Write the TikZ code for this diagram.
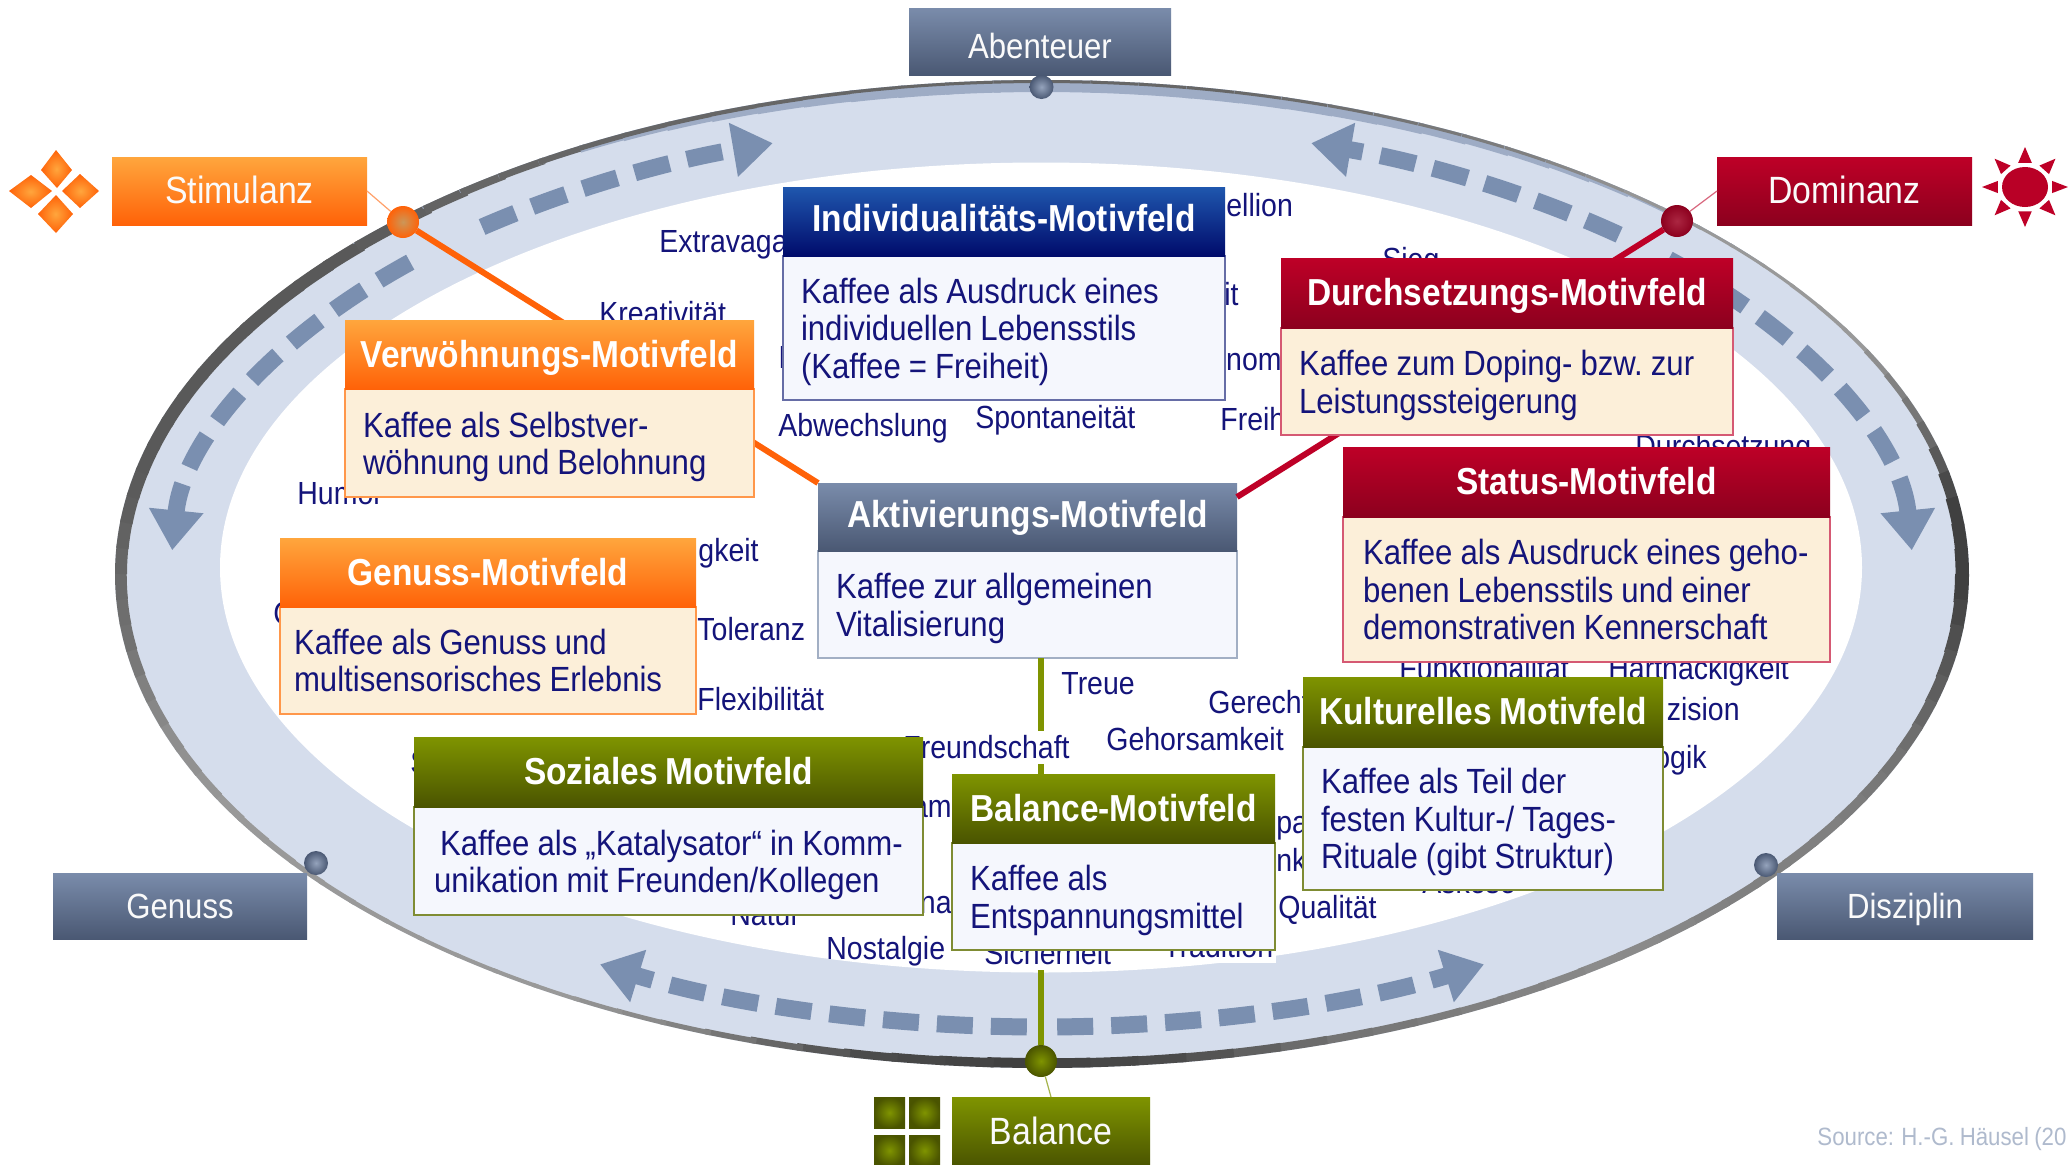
\documentclass[tikz,border=0pt]{standalone}
\usepackage{fontspec}
\setmainfont[FakeStretch=0.89,WordSpace=0.85]{Liberation Sans}
\usetikzlibrary{arrows.meta}
\definecolor{navy}{HTML}{14147A}
\definecolor{bandc}{HTML}{D5DDEC}
\definecolor{dashc}{HTML}{7A8FB0}
\definecolor{orT}{HTML}{FFA63D}\definecolor{orB}{HTML}{FF6208}
\definecolor{reT}{HTML}{BE0027}\definecolor{reB}{HTML}{8C001E}
\definecolor{grT}{HTML}{7F9400}\definecolor{grB}{HTML}{4A5400}
\definecolor{blT}{HTML}{1F57AE}\definecolor{blB}{HTML}{000B6B}
\definecolor{gyT}{HTML}{7A8CAB}\definecolor{gyB}{HTML}{4A5873}
\definecolor{warm}{HTML}{FCEFD9}
\definecolor{cool}{HTML}{F5F7FD}
\tikzset{
  x=0.5pt,y=-0.5pt,
  headfont/.style={font=\fontsize{18.8}{20}\selectfont\bfseries,text=white},
  orhead/.style={top color=orT,bottom color=orB},
  rehead/.style={top color=reT,bottom color=reB},
  grhead/.style={top color=grT,bottom color=grB},
  blhead/.style={top color=blT,bottom color=blB},
  gyhead/.style={top color=gyT,bottom color=gyB},
  orbody/.style={fill=warm,draw=orB!60!orT!80},
  rebody/.style={fill=warm,draw=reT!65},
  grbody/.style={fill=cool,draw=grT!60!gray},
  blbody/.style={fill=cool,draw=blB!60},
  gybody/.style={fill=cool,draw=gyT!70},
  bodybox/.style={inner xsep=9pt,inner ysep=0pt,outer sep=0pt,line width=0.8pt,align=left,text=navy,
    font=\fontsize{17.5}{18.75}\selectfont},
  headbox/.style={inner sep=0pt,outer sep=0pt,headfont,text height=14.5pt,text depth=2pt},
  labelbox/.style={inner sep=0pt,outer sep=0pt,text=white!96!gray,font=\fontsize{17.5}{20}\selectfont,text height=14pt,text depth=1.5pt},
  biglabel/.style={font=\fontsize{19}{20}\selectfont},
  word/.style={inner sep=0pt,anchor=west,text=navy,font=\fontsize{16}{18}\selectfont,text height=14pt,text depth=2.5pt},
  wordend/.style={word,anchor=east},
  wordw/.style={word,fill=white,inner xsep=1.5pt,inner ysep=0pt},
  ball/.style={circle,inner sep=0pt,outer sep=0pt,minimum size=#1*0.5pt},
  dashedarc/.style={draw=dashc,line width=8.5pt,dash pattern=on 18pt off 9pt,
    -{Triangle[length=20pt,width=26pt,fill=dashc]}},
  thin link/.style={line width=0.6pt},
  fat link/.style={line width=3pt}
}
% name, x0, x1, y0, yhead, y1, style, title, body
\newcommand\mfbox[9]{%
  \pgfmathsetmacro\mfw{(#3-#2)*0.5}%
  \pgfmathsetmacro\mfh{(#5-#4)*0.5}%
  \pgfmathsetmacro\mfb{(#6-#5)*0.5}%
  \pgfmathsetmacro\mft{(#3-#2-36)*0.5}%
  \node[bodybox,#7body,minimum width=\mfw pt,minimum height=\mfb pt,text width=\mft pt] (#1B)
     at ({(#2+#3)/2},{(#5+#6)/2}) {\spaceskip=0.23em\xspaceskip=0.23em\relax\rule{0pt}{16.5pt}#9};
  \node[headbox,#7head,minimum width=\mfw pt,minimum height=\mfh pt] (#1H)
     at ({(#2+#3)/2},{(#4+#5)/2}) {#8};
}
\newcommand\lblbox[7]{% name x0 x1 y0 y1 style text
  \pgfmathsetmacro\mfw{(#3-#2)*0.5}%
  \pgfmathsetmacro\mfh{(#5-#4)*0.5}%
  \node[labelbox,#6,minimum width=\mfw pt,minimum height=\mfh pt] (#1)
     at ({(#2+#3)/2},{(#4+#5)/2}) {#7};
}
\newcommand\darc[2]{\draw[dashedarc] ({1042+871*cos(#1)},{574+453*sin(#1)})
   arc[start angle=#1,end angle=#2,x radius=871,y radius=453];}
\newcommand\bodyup{\rule[-4pt]{0pt}{0pt}}
\def\rimw{{14,12,10,9,8,8,7,8,9,10,8,5,4,4,5,7,9,11,12,13,13,13,12,8,5,4,3,3,3,3,3,3,3,4,7,12,14}}
\def\rimc{{75,65,55,50,50,45,50,55,70,75,70,50,40,40,40,40,45,55,60,65,65,65,65,60,60,60,60,60,60,55,50,40,40,40,55,75,75}}
\def\rimu{{0,0,0,0,0,0,0,0,0,0,0,0,0,0,0,0,0,0,0,0,0,0,0,3,7,10,12,12,12,11,8,4,0,0,0,0,0}}
\begin{document}
\begin{tikzpicture}
\useasboundingbox (0,0) rectangle (2068,1164);
\clip (0,0) rectangle (2068,1164);
\fill[white] (0,0) rectangle (2068,1164);
% band
\fill[bandc] (1042,574) circle[x radius=927,y radius=494];
\fill[white] (1041,567.5) circle[x radius=821,y radius=405];
% rim
\foreach \a in {0,3,...,357}{
  \pgfmathtruncatemacro\ri{floor(\a/10)}
  \pgfmathsetmacro\rf{\a/10-\ri}
  \pgfmathsetmacro\w{\rimw[\ri]*(1-\rf)+\rimw[\ri+1]*\rf}
  \pgfmathsetmacro\c{\rimc[\ri]*(1-\rf)+\rimc[\ri+1]*\rf}
  \pgfmathsetmacro\u{\rimu[\ri]*(1-\rf)+\rimu[\ri+1]*\rf}
  \ifdim\u pt>0.1pt
  \draw[line width={\u*0.5pt},gyT!60!bandc] ({1042+(927-\u/2)*cos(\a)},{574+(494-\u/2)*sin(\a)})
     arc[start angle=\a,end angle=\a+3.4,x radius={927-\u/2},y radius={494-\u/2}];
  \fi
  \draw[line width={\w*0.5pt},black!\c] ({1042+(927-\w/2)*cos(\a)},{574+(494-\w/2)*sin(\a)})
     arc[start angle=\a,end angle=\a+3.4,x radius={927-\w/2},y radius={494-\w/2}];
}
% dashed arrows
\darc{230}{252}
\darc{223.5}{183}
\darc{311.5}{288}
\darc{316}{357}
\darc{91}{120.5}
\darc{89}{59.5}
% dots
\node[ball=32,inner color=orT!60!gray,outer color=orB] (dotS) at (403,222) {};
\node[ball=32,inner color=reT!70!gray,outer color=reB] (dotD) at (1677,221) {};
\node[ball=32,inner color=grT,outer color=grB] (dotB) at (1041,1061) {};
\node[ball=24,inner color=gyT!80!white,outer color=gyB] (dotA) at (1041.5,87) {};
\node[ball=24,inner color=gyT!80!white,outer color=gyB] (dotG) at (316,863) {};
\node[ball=24,inner color=gyT!80!white,outer color=gyB] (dotZ) at (1766,865) {};
% labels
\lblbox{lStim}{112}{367}{157}{225}{orhead,biglabel}{Stimulanz}
\lblbox{lDom}{1717}{1972}{157}{225}{rehead,biglabel}{Dominanz}
\lblbox{lAb}{909}{1171}{8}{75}{gyhead}{\raisebox{-2pt}{Abenteuer}}
\lblbox{lGen}{53}{307}{873}{939}{gyhead}{Genuss}
\lblbox{lDis}{1777}{2033}{873}{939}{gyhead}{Disziplin}
\lblbox{lBal}{952}{1150}{1097}{1166}{grhead,biglabel}{Balance}
% central box
\mfbox{akt}{818}{1237}{483}{551}{658}{gy}{\raisebox{1.2pt}{Aktivierungs-Motivfeld}}{Kaffee zur allgemeinen\\Vitalisierung}
% connectors
\coordinate (redEnd) at (1237,497);
\draw[thin link,orB!60] (lStim.east) -- (dotS);
\draw[thin link,reT!60] (lDom.west) -- (dotD);
\draw[thin link,grT!70] (dotB) -- (lBal.north);
\draw[fat link,orB] (dotS) -- (aktH.north west);
\draw[fat link,reT] (dotD) -- (redEnd);
\draw[fat link,grT] (dotB) -- (dotB |- aktB.south);
% words
\node[word] (w1) at (659,241) {Extravaganz};
\node[word] (w2) at (1226,205) {ellion};
\node[word] (w3) at (599,313) {Kreativität};
\node[word] (w4) at (778,357) {I};
\node[word] (w5) at (778,425) {Abwechslung};
\node[word] (w6) at (975,417) {Spontaneität};
\node[word] (w7) at (1220,419) {Freiheit};
\node[wordend] (w8) at (1282,359) {onom};
\node[wordend] (w9) at (1239,294) {it};
\node[word] (w10) at (1382,259) {Sieg};
\node[word] (w11) at (1635,446) {Durchsetzung};
\node[word] (w12) at (297,493) {Humor};
\node[wordend] (w13) at (759,550) {gkeit};
\node[word] (w14) at (697,629) {Toleranz};
\node[word] (w15) at (697,699) {Flexibilität};
\node[word] (w16) at (273,613) {C};
\node[word] (w17) at (410,762) {S};
\node[wordend] (w18) at (952,806) {am};
\node[wordend] (w19) at (952,902) {na};
\node[wordw] (w20) at (727,914) {Natur};
\node[word] (w21) at (826,948) {Nostalgie};
\node[wordw] (w22) at (981,953) {Sicherheit};
\node[wordw] (w23) at (1160,946) {Tradition};
\node[word] (w24) at (1278,907) {Qualität};
\node[word] (w25) at (1422,882) {Askese};
\node[word] (w26) at (1061,683) {Treue};
\node[word] (w27) at (1208,702) {Gerechtigkeit};
\node[word] (w28) at (1106,739) {Gehorsamkeit};
\node[wordw] (w29) at (900,747) {Freundschaft};
\node[word] (w30) at (1399,668) {Funktionalität};
\node[word] (w31) at (1608,668) {Hartnäckigkeit};
\node[wordend] (w32) at (1740,709) {zision};
\node[wordend] (w33) at (1707,757) {Logik};
\node[word] (w34) at (1276,822) {par};
\node[word] (w35) at (1276,860) {nk};
% motive boxes
\mfbox{ind}{783}{1225}{187}{256}{400}{bl}{\raisebox{1.2pt}{Individualitäts-Motivfeld}}{Kaffee als Ausdruck eines\\individuellen Lebensstils\\(Kaffee = Freiheit)}
\mfbox{ver}{345}{754}{320}{389}{497}{or}{Verwöhnungs-Motivfeld}{Kaffee als Selbstver-\\wöhnung und Belohnung}
\mfbox{gen}{280}{696}{538}{607}{714}{or}{Genuss-Motivfeld}{\hspace*{-2pt}Kaffee als Genuss und\\\hspace*{-2pt}multisensorisches Erlebnis\bodyup}
\mfbox{dur}{1281}{1733}{258}{328}{435}{re}{Durchsetzungs-Motivfeld}{Kaffee zum Doping- bzw. zur\\Leistungssteigerung}
\mfbox{sta}{1343}{1830}{447}{517}{662}{re}{Status-Motivfeld}{\hspace*{1pt}Kaffee als Ausdruck eines geho-\\\hspace*{1pt}benen Lebensstils und einer\\\hspace*{1pt}demonstrativen Kennerschaft\bodyup}
\mfbox{soz}{414}{923}{737}{807}{915}{gr}{Soziales Motivfeld}{\hspace*{4pt}Kaffee als „Katalysator“ in Komm-\\\hspace*{1pt}unikation mit Freunden/Kollegen}
\mfbox{bal}{952}{1275}{774}{843}{950}{gr}{Balance-Motivfeld}{Kaffee als\\Entspannungsmittel}
\mfbox{kul}{1303}{1663}{677}{747}{890}{gr}{Kulturelles Motivfeld}{Kaffee als Teil der\\festen Kultur-/ Tages-\\Rituale (gibt Struktur)}
% stimulanz icon
\shade[inner color=orT,outer color=orB] (56,150) -- (72,170) -- (57,188) -- (41,170) -- cycle;
\shade[inner color=orT,outer color=orB] (62,191) -- (80,174) -- (99,191) -- (80,208) -- cycle;
\shade[inner color=orT,outer color=orB] (52,191) -- (31,175) -- (9,191) -- (31,208) -- cycle;
\shade[inner color=orT,outer color=orB] (56,195) -- (73,214) -- (56,233) -- (38,214) -- cycle;
% dominanz icon
\foreach \t in {0,45,...,315}{
  \fill[reT] ({2025+28*cos(\t+14)},{187+25*sin(\t+14)}) -- ({2025+43*cos(\t)},{187+40*sin(\t)}) -- ({2025+28*cos(\t-14)},{187+25*sin(\t-14)}) -- cycle;
}
\fill[reT!90!reB] (2025,187) circle[x radius=23,y radius=20];
% balance icon
\shade[inner color=grT,outer color=grB] (874,1097) rectangle (905,1128);
\shade[inner color=grT,outer color=grB] (909,1097) rectangle (940,1128);
\shade[inner color=grT,outer color=grB] (874,1135) rectangle (905,1166);
\shade[inner color=grT,outer color=grB] (909,1135) rectangle (940,1166);
% source
\node[word,text=gyT!60,font=\fontsize{12.5}{14}\selectfont] (src) at (1817,1134) {Source: H.-G. Häusel (20};
\end{tikzpicture}
\end{document}
